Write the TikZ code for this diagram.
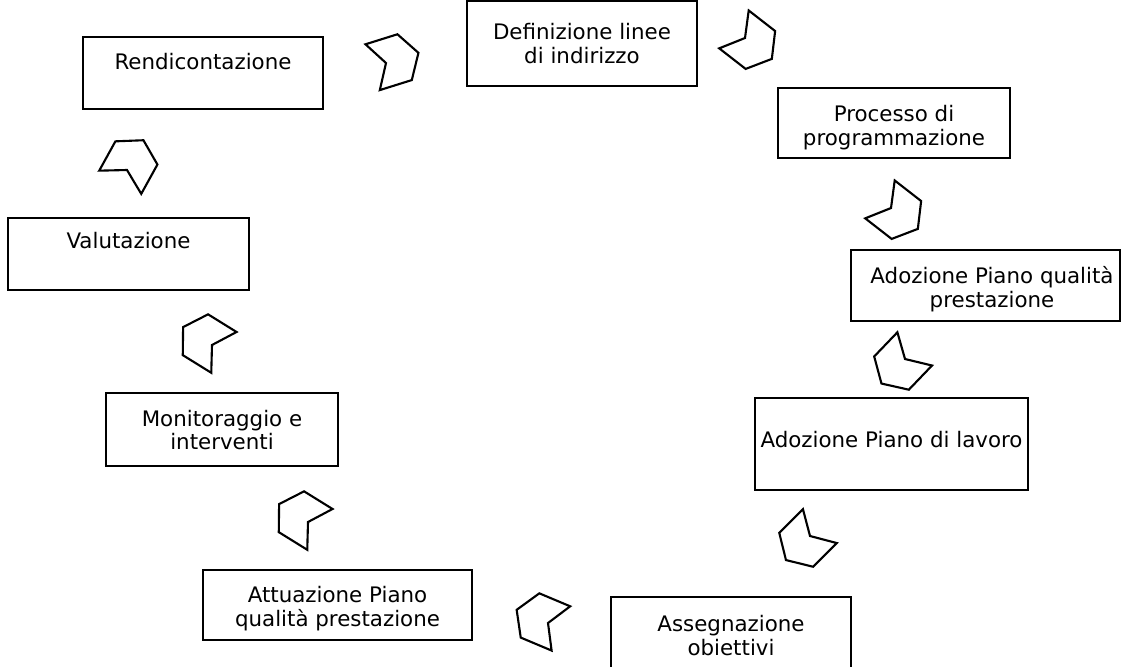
\documentclass[tikz,border=0pt]{standalone}
\usepackage{fontspec}
\setmainfont{DejaVu Sans}
\usepackage{tikz}

\begin{document}
\begin{tikzpicture}[x=0.025cm, y=-0.025cm,
    box/.style={rectangle, draw=black, line width=1.5pt, inner sep=0pt},
    txt/.style={align=center, font=\fontsize{15.2}{17}\selectfont, inner sep=0pt},
    chev/.pic={\draw[line width=1.5pt] (-14,-24) -- (19.5,-24) -- (34,0) -- (19.5,24) -- (-14,24) -- (0,0) -- cycle;}
  ]
  \useasboundingbox (0,0) rectangle (1128,666);
  \clip (0,0) rectangle (1128,666);
  \fill[white] (0,0) rectangle (1128,666);

  % Boxes
  \node[box, minimum width=240*0.025cm, minimum height=72*0.025cm] (rend) at (203,73) {};
  \node[box, minimum width=230*0.025cm, minimum height=85*0.025cm] (defin) at (582,43.5) {};
  \node[box, minimum width=232*0.025cm, minimum height=70*0.025cm] (proc) at (894,123) {};
  \node[box, minimum width=269*0.025cm, minimum height=71*0.025cm] (adozq) at (985.5,285.5) {};
  \node[box, minimum width=273*0.025cm, minimum height=92*0.025cm] (adozl) at (891.5,444) {};
  \node[box, minimum width=240*0.025cm, minimum height=93*0.025cm] (asse) at (731,643.5) {};
  \node[box, minimum width=269*0.025cm, minimum height=70*0.025cm] (attu) at (337.5,605) {};
  \node[box, minimum width=232*0.025cm, minimum height=73*0.025cm] (moni) at (222,429.5) {};
  \node[box, minimum width=241*0.025cm, minimum height=72*0.025cm] (valu) at (128.5,254) {};

  % Texts
  \node[txt] (rend-t) at (203,62) {Rendicontazione};
  \node[txt] (defin-t) at (582,43.5) {Definizione linee\\di indirizzo};
  \node[txt] (proc-t) at (894,128) {Processo di\\programmazione};
  \node[txt] (adozq-t) at (992,289) {Adozione Piano qualità\\prestazione};
  \node[txt] (adozl-t) at (891.5,440) {Adozione Piano di lavoro};
  \node[txt] (asse-t) at (731,635.5) {Assegnazione\\obiettivi};
  \node[txt] (attu-t) at (337.5,609) {Attuazione Piano\\qualità prestazione};
  \node[txt] (moni-t) at (222,430) {Monitoraggio e\\interventi};
  \node[txt] (valu-t) at (128.5,241) {Valutazione};

  % Chevrons
  \pic[rotate=17.4] (c1) at (386,63) {chev};
  \pic[rotate=-37.9] (c2) at (745,38) {chev};
  \pic[rotate=-37.9] (c3) at (891,208) {chev};
  \pic[rotate=-133.8] (c4) at (905,359) {chev};
  \pic[rotate=-135] (c5) at (810,536) {chev};
  \pic[rotate=157.2] (c6) at (548,623) {chev};
  \pic[rotate=148.2] (c7) at (308,522) {chev};
  \pic[rotate=148.2] (c8) at (212,345) {chev};
  \pic[rotate=61.1] (c9) at (127,170) {chev};

\end{tikzpicture}
\end{document}
